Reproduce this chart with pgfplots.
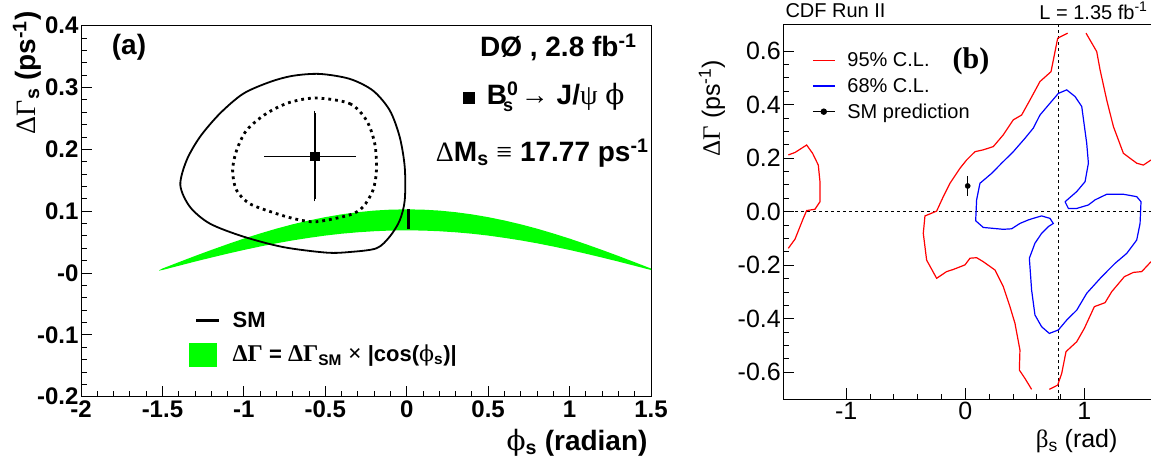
\documentclass[border=0pt]{standalone}
\usepackage{pgfplots}
\pgfplotsset{compat=1.18}
\usepackage{fontspec}
\setmainfont{Liberation Sans}
\newfontfamily\grk{Liberation Serif}
\newfontfamily\phif{DejaVu Serif}
\newcommand\fs[1]{\fontsize{#1}{#1}\selectfont}
\newcommand\sub[1]{\textsubscript{#1}}
\newcommand\sups[1]{\textsuperscript{#1}}
\begin{document}
\begin{tikzpicture}
\useasboundingbox (0,0) rectangle (1151pt,466pt);
% ---------------- panel (a) ----------------
\begin{axis}[at={(81pt,69.3pt)}, anchor=south west, scale only axis,
  width=570pt, height=371pt,
  xmin=-2, xmax=1.5, ymin=-0.2, ymax=0.4,
  xtick={-2,-1.5,-1,-0.5,0,0.5,1,1.5},
  xticklabels={-2,-1.5,-1,-0.5,0,0.5,1,1.5},
  ytick={-0.2,-0.1,0,0.1,0.2,0.3,0.4},
  yticklabels={-0.2,-0.1,-0,0.1,0.2,0.3,0.4},
  minor x tick num=4, minor y tick num=4,
  tick pos=left, tick align=inside,
  major tick length=11pt, minor tick length=6pt,
  tick style={black, line width=0.9pt},
  axis line style={line width=1pt},
  ticklabel style={font=\fs{24}\bfseries},
  xticklabel style={yshift=-1pt},
  yticklabel style={xshift=1pt},
  legend style={draw=none, fill=none, at={(axis description cs:0.189,0.235)},
    anchor=north west, inner sep=0pt, font=\fs{22}\bfseries,
    row sep=12pt, column sep=10pt, cells={anchor=west}},
]
\addlegendimage{black, line width=3pt, legend image code/.code={\draw (7pt,0pt) -- (30pt,0pt);}}
\addlegendentry{SM}
\addlegendimage{green, fill=green, legend image code/.code={\fill (0pt,-11.5pt) rectangle (27pt,11.5pt);}}
\addlegendentry{{\grk\fs{24}ΔΓ} = {\grk\fs{24}ΔΓ}\sub{SM} {\grk\fs{24}×} |cos({\phif\mdseries ϕ}\sub{s})|}
% green band
\addplot[fill=green, draw=none, forget plot] coordinates {
(-1.52,0.0045) (-1.5,0.0073) (-1.4,0.0175) (-1.3,0.0276) (-1.2,0.0373) (-1.1,0.0467)
(-1.0,0.0557) (-0.9,0.0640) (-0.8,0.0718) (-0.7,0.0788) (-0.6,0.0850) (-0.5,0.0904)
(-0.4,0.0949) (-0.3,0.0984) (-0.2,0.1010) (-0.1,0.1025) (0,0.1030) (0.1,0.1025)
(0.2,0.1010) (0.3,0.0984) (0.4,0.0949) (0.5,0.0904) (0.6,0.0850) (0.7,0.0788)
(0.8,0.0718) (0.9,0.0640) (1.0,0.0557) (1.1,0.0467) (1.2,0.0373) (1.3,0.0276)
(1.4,0.0175) (1.5,0.0073)
(1.5,0.0049) (1.4,0.0117) (1.3,0.0185) (1.2,0.0250) (1.1,0.0313) (1.0,0.0373)
(0.9,0.0429) (0.8,0.0481) (0.7,0.0528) (0.6,0.0569) (0.5,0.0606) (0.4,0.0636)
(0.3,0.0659) (0.2,0.0676) (0.1,0.0687) (0,0.0690) (-0.1,0.0687) (-0.2,0.0676)
(-0.3,0.0659) (-0.4,0.0636) (-0.5,0.0606) (-0.6,0.0569) (-0.7,0.0528) (-0.8,0.0481)
(-0.9,0.0429) (-1.0,0.0373) (-1.1,0.0313) (-1.2,0.0250) (-1.3,0.0185) (-1.4,0.0117)
(-1.5,0.0049) (-1.52,0.0040)
} -- cycle;
% SM marker
\addplot[black, line width=3pt, forget plot] coordinates {(0.01,0.071) (0.01,0.103)};
% solid contour
\addplot[black, line width=1.8pt, smooth cycle, tension=0.5, forget plot] coordinates {
(-0.534,0.322) (-0.350,0.314) (-0.207,0.295) (-0.104,0.263) (-0.043,0.220)
(-0.012,0.171) (-0.012,0.118) (-0.043,0.085) (-0.104,0.059) (-0.186,0.040)
(-0.350,0.034) (-0.493,0.033) (-0.759,0.042) (-1.004,0.059) (-1.209,0.080)
(-1.331,0.107) (-1.390,0.142) (-1.352,0.182) (-1.270,0.220) (-1.147,0.258)
(-1.004,0.290) (-0.840,0.309) (-0.698,0.319)
};
% dotted contour
\addplot[black, line width=2.8pt, dash pattern=on 2.8pt off 4pt, smooth cycle, tension=0.5, forget plot] coordinates {
(-0.554,0.283) (-0.350,0.274) (-0.247,0.247) (-0.196,0.209) (-0.186,0.166)
(-0.207,0.134) (-0.268,0.107) (-0.350,0.094) (-0.554,0.083) (-0.677,0.087)
(-0.799,0.096) (-0.963,0.112) (-1.045,0.134) (-1.069,0.166) (-1.045,0.198)
(-0.983,0.231) (-0.861,0.258) (-0.718,0.276)
};
% measurement
\addplot[black, line width=1.4pt, mark=square*, mark size=4pt, forget plot,
  error bars/.cd, x dir=both, x explicit, y dir=both, y explicit,
  error bar style={line width=1.4pt}, error mark options={line width=1pt, mark size=2pt}]
  coordinates {(-0.564,0.188) += (0.239,0.071) -= (0.299,0.069)};
\end{axis}
% texts panel (a)
\node[font=\fs{28}\bfseries] at (129pt,419pt) {(a)};
\node[font=\fs{28}\bfseries, anchor=east] at (640pt,419pt) {DØ , 2.8 fb\sups{-1}};
\node[font=\fs{28}\bfseries, anchor=east] at (628pt,369pt) {\rule[1pt]{12pt}{12pt}\hspace{12pt}B\textsuperscript{0}\hspace{-0.55em}\raisebox{-7pt}{\fs{18}s} {\grk\mdseries →} J/{\grk\mdseries ψ} {\phif\mdseries ϕ}};
\node[font=\fs{28}\bfseries, anchor=east] at (652pt,313pt) {{\grk\mdseries Δ}M\sub{s} {\grk\mdseries ≡} 17.77 ps\sups{-1}};
\node[font=\fs{28}\bfseries, anchor=east] at (651pt,23pt) {{\phif\mdseries ϕ}\sub{s} (radian)};
\node[font=\fs{28}\bfseries, rotate=90, anchor=east] at (27pt,458pt) {{\grk\mdseries ΔΓ}\sub{s} (ps\sups{-1})};
% ---------------- panel (b) ----------------
\begin{axis}[at={(783.3pt,67pt)}, anchor=south west, scale only axis,
  width=367.7pt, height=374.7pt,
  xmin=-1.529, xmax=1.56, ymin=-0.7, ymax=0.7,
  xtick={-1,0,1}, xticklabels={-1,0,1},
  ytick={-0.6,-0.4,-0.2,0,0.2,0.4,0.6},
  yticklabels={-0.6,-0.4,-0.2,0.0,0.2,0.4,0.6},
  minor x tick num=4, minor y tick num=3,
  tick pos=left, tick align=inside,
  major tick length=11pt, minor tick length=5.5pt,
  tick style={black, line width=0.8pt},
  axis line style={line width=1pt},
  ticklabel style={font=\fs{25}},
  yticklabel style={xshift=1pt},
  legend style={draw=none, fill=none, at={(axis description cs:0.078,0.93)},
    anchor=north west, inner sep=0pt, font=\fs{20},
    row sep=6pt, column sep=10pt, cells={anchor=west}},
]
\addlegendimage{red, line width=1.2pt, legend image code/.code={\draw (0pt,0pt) -- (22pt,0pt);}}
\addlegendentry{95\% C.L.}
\addlegendimage{blue, line width=1.2pt, legend image code/.code={\draw (0pt,0pt) -- (22pt,0pt);}}
\addlegendentry{68\% C.L.}
\addlegendimage{black, line width=1.2pt, legend image code/.code={\draw (0pt,0pt) -- (22pt,0pt); \fill (11pt,0pt) circle (2.6pt);}}
\addlegendentry{SM prediction}
% dashed lines
\addplot[black, line width=0.8pt, dash pattern=on 3pt off 3pt, forget plot] coordinates {(-1.529,0) (1.56,0)};
\addplot[black, line width=0.8pt, dash pattern=on 3pt off 3pt, forget plot] coordinates {(0.785,-0.7) (0.785,0.7)};
% red 95% left piece
\addplot[red, line width=1.2pt, forget plot] coordinates {
(-1.487,0.212) (-1.431,0.221) (-1.333,0.249) (-1.283,0.218) (-1.235,0.174)
(-1.221,0.112) (-1.221,0.037) (-1.263,0.009) (-1.333,0.004) (-1.361,-0.025)
(-1.431,-0.103) (-1.487,-0.137)
};
% red 95% main left arm
\addplot[red, line width=1.2pt, forget plot] coordinates {
(0.860,0.667) (0.776,0.648) (0.720,0.523) (0.627,0.486) (0.543,0.417)
(0.473,0.361) (0.403,0.343) (0.319,0.287) (0.235,0.243) (0.151,0.231)
(0.081,0.224) (0.011,0.193) (-0.045,0.162) (-0.129,0.106) (-0.185,0.056)
(-0.241,0.002) (-0.339,-0.016) (-0.353,-0.081) (-0.325,-0.181) (-0.241,-0.249)
(-0.157,-0.224) (-0.101,-0.216) (-0.003,-0.199) (0.039,-0.174) (0.095,-0.172)
(0.151,-0.187) (0.249,-0.218) (0.319,-0.280) (0.375,-0.355) (0.417,-0.417)
(0.459,-0.517) (0.454,-0.592) (0.501,-0.623) (0.557,-0.664)
};
% red lower right
\addplot[red, line width=1.2pt, forget plot] coordinates {
(0.706,-0.664) (0.776,-0.648) (0.810,-0.604) (0.846,-0.523) (0.936,-0.486)
(1.000,-0.436) (1.084,-0.355) (1.174,-0.340) (1.230,-0.299) (1.336,-0.243)
(1.412,-0.227) (1.482,-0.224) (1.560,-0.187)
};
% red upper right
\addplot[red, line width=1.2pt, forget plot] coordinates {
(1.014,0.667) (1.104,0.598) (1.132,0.530) (1.188,0.417) (1.244,0.318)
(1.328,0.218) (1.440,0.181) (1.496,0.174) (1.560,0.193)
};
% blue 68%
\addplot[blue, line width=1.2pt, forget plot] coordinates {
(0.838,0.037) (0.936,0.075) (1.006,0.112) (1.034,0.181) (1.020,0.255)
(0.978,0.393) (0.922,0.430) (0.852,0.455) (0.782,0.442) (0.711,0.405)
(0.627,0.361) (0.571,0.312) (0.501,0.274) (0.403,0.224) (0.305,0.181)
(0.221,0.143) (0.123,0.106) (0.095,0.044) (0.087,-0.034) (0.151,-0.059)
(0.319,-0.066) (0.389,-0.064) (0.459,-0.044) (0.529,-0.031) (0.571,-0.025)
(0.641,-0.016) (0.711,-0.025) (0.739,-0.044) (0.697,-0.056) (0.641,-0.081)
(0.585,-0.118) (0.538,-0.174) (0.557,-0.293) (0.585,-0.386) (0.641,-0.430)
(0.706,-0.455) (0.782,-0.442) (0.852,-0.405) (0.936,-0.368) (1.020,-0.305)
(1.146,-0.243) (1.258,-0.193) (1.356,-0.156) (1.440,-0.106) (1.468,-0.044)
(1.476,0.037) (1.440,0.056) (1.328,0.065) (1.188,0.065) (1.090,0.044)
(1.034,0.025) (0.936,0.012) (0.866,0.012) (0.838,0.037)
};
% SM prediction
\addplot[black, only marks, mark=*, mark size=2.6pt, forget plot,
  error bars/.cd, y dir=both, y explicit, error mark=none,
  error bar style={line width=1.2pt}]
  coordinates {(0.020,0.096) +- (0,0.039)};
\end{axis}
% texts panel (b)
\node[font=\fs{20}, anchor=west] at (782pt,455pt) {CDF Run II};
\node[font=\fs{20}, anchor=east] at (1151pt,455pt) {L = 1.35 fb\sups{-1}};
\node[font=\fs{30}\grk\bfseries] at (971pt,405pt) {(b)};
\node[font=\fs{25}, anchor=east] at (1121pt,25pt) {{\grk β}\sub{s} (rad)};
\node[font=\fs{25}, rotate=90] at (712pt,358pt) {{\grk ΔΓ} (ps\sups{-1})};
\end{tikzpicture}
\end{document}
